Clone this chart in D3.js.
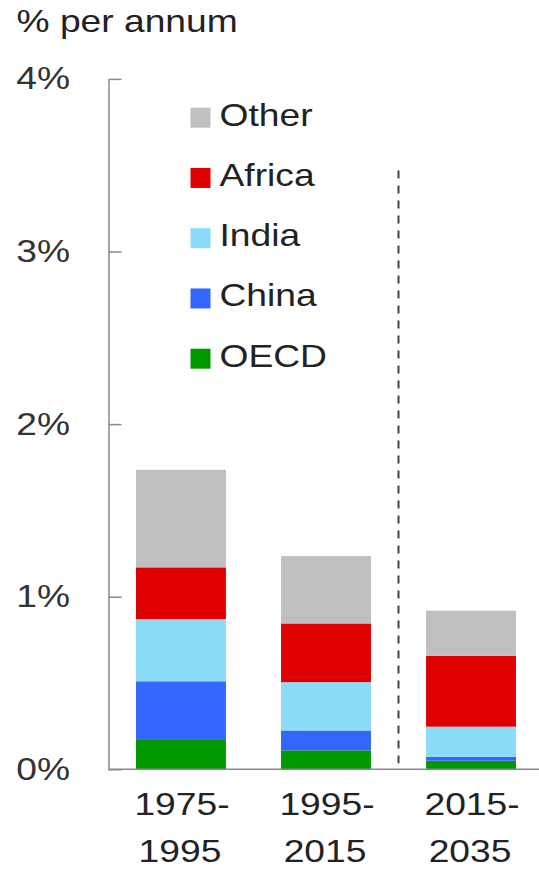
<!DOCTYPE html>
<html>
<head>
<meta charset="utf-8">
<script src="https://cdn.jsdelivr.net/npm/d3@7"></script>
<style>
  html, body { margin: 0; padding: 0; background: #fff; }
  svg { display: block; }
  text { font-family: "Liberation Sans", Arial, sans-serif; fill: #222; }
</style>
</head>
<body>
<svg id="chart" width="539" height="869"></svg>
<script>
// Periods on the x axis (each label on two lines)
const periods = ["1975-1995", "1995-2015", "2015-2035"];
const periodLines = [["1975-", "1995"], ["1995-", "2015"], ["2015-", "2035"]];

// Contribution to growth, % per annum, stacked bottom to top
const regions = ["OECD", "China", "India", "Africa", "Other"];
const oecd   = [0.17, 0.11, 0.05];
const china  = [0.34, 0.115, 0.023];
const india  = [0.36, 0.28, 0.174];
const africa = [0.30, 0.34, 0.41];
const other  = [0.565, 0.39, 0.262];

const yTicks = [0, 1, 2, 3, 4];
const yTickLabels = ["0%", "1%", "2%", "3%", "4%"];
const legendOrder = ["Other", "Africa", "India", "China", "OECD"];

const colors = {
  OECD: "#009a00",
  China: "#3366ff",
  India: "#8adcf8",
  Africa: "#e00000",
  Other: "#bfbfbf"
};

const seriesValues = { OECD: oecd, China: china, India: india, Africa: africa, Other: other };
const rows = periods.map((p, i) => {
  const r = { period: p };
  regions.forEach(k => { r[k] = seriesValues[k][i]; });
  return r;
});

const svg = d3.select("#chart");
const stretch = 1.2;        // wide letterforms
const fontSize = 31;

const axisX = 108.5;
const x = d3.scaleBand()
  .domain(periods)
  .range([122, 530])
  .paddingInner(0.38)
  .paddingOuter(0.0966);

const y = d3.scaleLinear().domain([0, 4]).range([769.3, 78.9]);

function wideText(sel, tx, ty, str, anchor) {
  return sel.append("text")
    .attr("transform", `translate(${tx},${ty}) scale(${stretch},1)`)
    .attr("text-anchor", anchor || "start")
    .style("font-size", fontSize + "px")
    .text(str);
}

// Unit title
wideText(svg, 16.5, 32, "% per annum");

// Stacked bars
const stack = d3.stack().keys(regions)(rows);
svg.append("g").selectAll("g")
  .data(stack)
  .join("g")
  .attr("fill", d => colors[d.key])
  .selectAll("rect")
  .data(d => d)
  .join("rect")
  .attr("x", d => x(d.data.period))
  .attr("width", x.bandwidth())
  .attr("y", d => y(d[1]))
  .attr("height", d => y(d[0]) - y(d[1]));

// Y axis: line with inward ticks and labels on the left
const yAxis = d3.axisRight(y)
  .tickValues(yTicks)
  .tickSize(13)
  .tickSizeOuter(0)
  .tickFormat(() => "");
const yg = svg.append("g").attr("transform", `translate(${axisX},0)`).call(yAxis);
yg.select(".domain").attr("stroke", "#8a8a8a").attr("stroke-width", 1.5);
yg.selectAll(".tick line").attr("stroke", "#8a8a8a").attr("stroke-width", 1.5);

yTicks.forEach((t, i) => {
  wideText(svg, 70, y(t) + 10.5, yTickLabels[i], "end").style("fill", "#333");
});

// Baseline running to the right edge
svg.append("line")
  .attr("x1", axisX).attr("x2", 539)
  .attr("y1", y(0)).attr("y2", y(0))
  .attr("stroke", "#8a8a8a").attr("stroke-width", 1.5);

// Divider between history and projection
const divX = (x(periods[1]) + x.bandwidth() + x(periods[2])) / 2;
svg.append("line")
  .attr("x1", divX).attr("x2", divX)
  .attr("y1", y(3.47)).attr("y2", y(0.035))
  .attr("stroke", "#444").attr("stroke-width", 2)
  .attr("stroke-dasharray", "8,7");

// Category labels
periods.forEach((p, i) => {
  const cx = x(p) + x.bandwidth() / 2;
  wideText(svg, cx + 1, 815, periodLines[i][0], "middle");
  wideText(svg, cx - 1, 861.5, periodLines[i][1], "middle");
});

// Legend
const lg = svg.append("g");
legendOrder.forEach((k, i) => {
  const base = 125.7 + i * 60.25;
  lg.append("rect")
    .attr("x", 190.5).attr("y", base - 18)
    .attr("width", 20).attr("height", 20)
    .attr("fill", colors[k]);
  wideText(lg, 219.5, base, k);
});
</script>
</body>
</html>
